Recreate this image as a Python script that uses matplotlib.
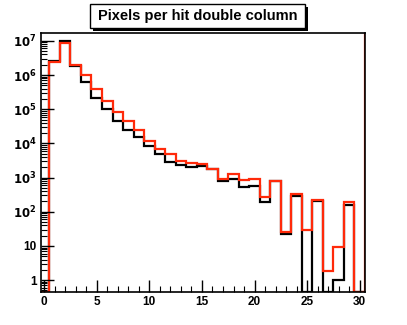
import numpy as np
import matplotlib
matplotlib.use("Agg")
import matplotlib.pyplot as plt
from matplotlib.patches import Rectangle
from matplotlib.ticker import FixedLocator, FuncFormatter, LogLocator, MultipleLocator

plt.rcParams['font.family'] = ['Liberation Sans', 'DejaVu Sans']

# bin edges: one bin per integer, centred on it
edges = np.arange(-0.5, 31.0, 1.0)

# hits per double column (black / red histograms)
black = [0, 2.6e6, 9.8e6, 1.9e6, 6.3e5, 2.1e5, 1.0e5, 4.4e4, 2.4e4, 1.5e4,
         8.4e3, 4.9e3, 2.9e3, 2.4e3, 2.1e3, 2.2e3, 1.8e3, 790, 910, 530,
         580, 190, 780, 23, 290, 0, 200, 0, 1, 163, 0]
red = [0, 2.4e6, 8.9e6, 2.0e6, 1.0e6, 3.8e5, 1.74e5, 8.3e4, 4.6e4, 2.4e4,
       1.15e4, 6.7e3, 4.9e3, 3.1e3, 2.6e3, 2.5e3, 1.8e3, 940, 1260, 830,
       910, 270, 790, 25, 323, 29, 215, 1.9, 9.3, 190, 0]

title = "Pixels per hit double column"
ymin, ymax = 0.45, 1.7e7

fig = plt.figure(figsize=(4.07, 3.25), dpi=100)
ax = fig.add_axes([41/407, 1 - 292/325, 324/407, 259/325])

# empty bins sit on the bottom of the frame like in ROOT
ax.stairs(np.clip(black, ymin, None), edges, color='black', lw=1.6)
ax.stairs(np.clip(red, ymin, None), edges, color='#ff2a0a', lw=1.6)
ax.axvline(edges[-1], color='#ff2a0a', lw=1.6)

ax.set_yscale('log')
ax.set_xlim(-0.3, 30.5)
ax.set_ylim(ymin, ymax)

ax.xaxis.set_major_locator(MultipleLocator(5))
ax.xaxis.set_minor_locator(MultipleLocator(1))
ax.yaxis.set_major_locator(FixedLocator([10.0**k for k in range(8)]))
ax.yaxis.set_minor_locator(LogLocator(base=10, subs=np.arange(2, 10)))


def ylab(v, pos):
    k = int(round(np.log10(v)))
    if k == 0:
        return '1'
    if k == 1:
        return '10'
    return r'$\mathbf{10^{%d}}$' % k


ax.yaxis.set_major_formatter(FuncFormatter(ylab))
ax.tick_params(which='both', direction='in', top=False, right=False)
ax.tick_params(which='major', length=9, width=1, labelsize=8.5, pad=3)
ax.tick_params(which='minor', length=4.5, width=0.8)
for lab in ax.get_xticklabels() + ax.get_yticklabels():
    lab.set_fontweight('bold')

for s in ax.spines.values():
    s.set_linewidth(1.2)
    s.set_color('black')

# title box with shadow
fig.patches.append(Rectangle((93/407, 1 - 31/325), 215/407, 24/325,
                             transform=fig.transFigure, facecolor='black',
                             edgecolor='none', zorder=1))
fig.patches.append(Rectangle((90/407, 1 - 28/325), 215/407, 24/325,
                             transform=fig.transFigure, facecolor='white',
                             edgecolor='black', lw=1, zorder=2))
fig.text(197.5/407, 1 - 16/325, title, ha='center', va='center',
         fontsize=10.5, fontweight='bold', zorder=3)

fig.savefig('out.png', dpi=100)
